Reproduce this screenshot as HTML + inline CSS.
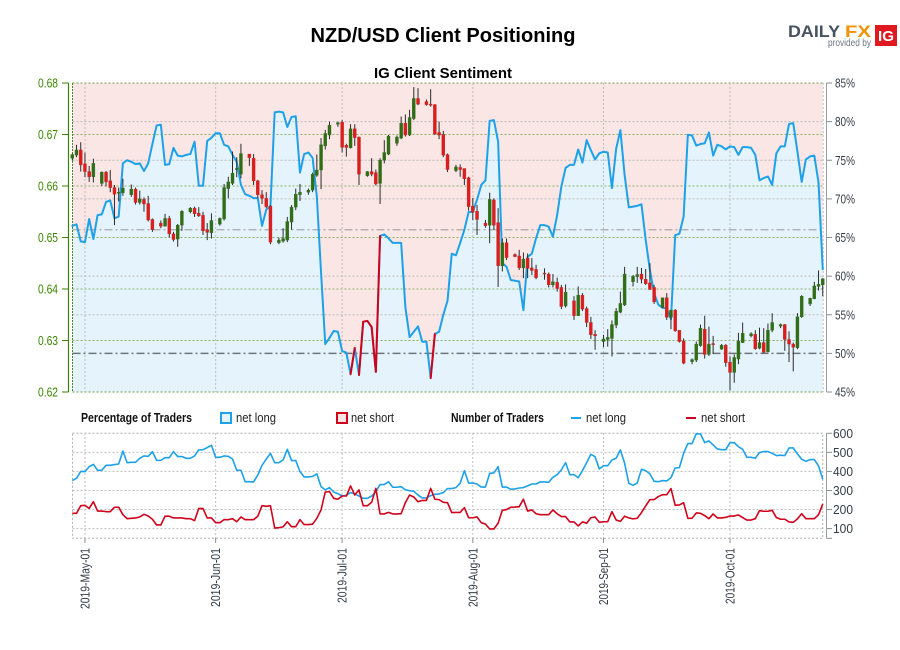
<!DOCTYPE html>
<html lang="en">
<head>
<meta charset="utf-8">
<title>NZD/USD Client Positioning</title>
<style>
html,body{margin:0;padding:0;background:#fff;}
body{width:900px;height:650px;overflow:hidden;}
svg{display:block;}
text{font-family:"Liberation Sans Narrow","Liberation Sans",sans-serif;}
.wide{font-family:"Liberation Sans",sans-serif;}
</style>
</head>
<body>
<svg id="chart" xmlns="http://www.w3.org/2000/svg" width="900" height="650" viewBox="0 0 900 650">
  <rect x="0" y="0" width="900" height="650" fill="#ffffff"/>
  <text class="wide" x="443" y="42" text-anchor="middle" font-size="20" font-weight="bold" fill="#000" textLength="265" lengthAdjust="spacingAndGlyphs">NZD/USD Client Positioning</text>
  <text class="wide" x="443" y="78" text-anchor="middle" font-size="15" font-weight="bold" fill="#000" textLength="138" lengthAdjust="spacingAndGlyphs">IG Client Sentiment</text>
  <g>
    <text class="wide" x="788" y="37" font-size="17" font-weight="bold" fill="#47535f" textLength="52" lengthAdjust="spacingAndGlyphs">DAILY</text>
    <text class="wide" x="845" y="37" font-size="17" font-weight="bold" fill="#f39200" textLength="26" lengthAdjust="spacingAndGlyphs">FX</text>
    <text class="wide" x="828" y="46" font-size="10" fill="#6d7680" textLength="43" lengthAdjust="spacingAndGlyphs">provided by</text>
    <rect x="875" y="25" width="22" height="21" fill="#e0181f"/>
    <text class="wide" x="886" y="41" text-anchor="middle" font-size="15" font-weight="bold" fill="#fff" textLength="16" lengthAdjust="spacingAndGlyphs">IG</text>
  </g>
  <g font-size="13" fill="#222">
    <text x="81" y="422" font-weight="bold" fill="#111" textLength="111" lengthAdjust="spacingAndGlyphs">Percentage of Traders</text>
    <rect x="221" y="413" width="10" height="10" fill="#e5f4fc" stroke="#1da1e8" stroke-width="2"/>
    <text x="236" y="422" textLength="40" lengthAdjust="spacingAndGlyphs">net long</text>
    <rect x="337" y="413" width="10" height="10" fill="#fbe6e6" stroke="#d0021b" stroke-width="2"/>
    <text x="351" y="422" textLength="43" lengthAdjust="spacingAndGlyphs">net short</text>
    <text x="451" y="422" font-weight="bold" fill="#111" textLength="93" lengthAdjust="spacingAndGlyphs">Number of Traders</text>
    <line x1="571" y1="418" x2="581" y2="418" stroke="#1da1e8" stroke-width="2"/>
    <text x="586" y="422" textLength="40" lengthAdjust="spacingAndGlyphs">net long</text>
    <line x1="686" y1="418" x2="696" y2="418" stroke="#d0021b" stroke-width="2"/>
    <text x="701" y="422" textLength="44" lengthAdjust="spacingAndGlyphs">net short</text>
  </g>
</svg>
<script>
// Prices are stored in pips (0.0001 units). null = market-closed day.
const opens=[
6654,6660,6670,6643,6628,6618,null,
6605,6627,6610,6597,6586,6587,null,
6583,6594,6568,6574,6566,6535,null,
6528,6522,6537,6507,6497,6524,null,
6550,6557,6547,6543,6515,6509,null,
6526,6536,6595,6605,6632,6623,null,
6662,6654,6610,6583,6576,6561,null,
6490,6493,6495,6530,6559,6583,null,
6588,6592,6621,6631,6678,6699,null,
6720,6724,6679,6674,6711,6695,null,
6620,6628,6626,6605,6650,6662,null,
6683,6693,6722,6699,6731,6770,null,
6764,6759,6758,6704,6700,6661,null,
6630,6636,6634,6616,6561,6551,null,
6528,6524,6573,6529,6445,6490,null,
6467,6464,6441,6460,6441,6438,null,
6431,6429,6408,6413,6403,6367,null,
6377,6348,6388,6362,6335,6312,null,
6298,6302,6304,6330,6355,6369,null,
6414,6424,6429,6419,6412,6403,null,
6364,6383,6345,6359,6320,6299,null,
6259,6262,6290,6322,6273,6294,null,
6283,6291,6258,6238,6264,6296,null,
6309,6312,6285,6296,6278,6320,null,
6328,6331,6302,6293,6286,6346,null,
6371,6381,6405,6408];
const highs=[
6663,6680,6685,6665,6639,6653,null,
6628,6629,6631,6602,6597,6614,null,
6603,6597,6591,6578,6581,6537,null,
6533,6546,6542,6511,6526,6553,null,
6559,6560,6559,6550,6528,6547,null,
6539,6604,6618,6667,6656,6682,null,
6662,6662,6612,6592,6588,6563,null,
6500,6518,6540,6563,6595,6604,null,
6595,6626,6661,6693,6709,6725,null,
6725,6728,6682,6720,6720,6696,null,
6629,6654,6632,6654,6689,6699,null,
6698,6735,6739,6748,6792,6790,null,
6768,6788,6759,6725,6707,6663,null,
6641,6642,6634,6618,6577,6563,null,
6534,6587,6576,6557,6498,6498,null,
6469,6476,6471,6469,6460,6447,null,
6440,6432,6429,6422,6408,6409,null,
6386,6405,6392,6366,6346,6320,null,
6311,6322,6339,6363,6395,6443,null,
6427,6443,6441,6439,6450,6408,null,
6383,6392,6359,6361,6320,6304,null,
6265,6298,6331,6348,6327,6309,null,
6293,6293,6269,6273,6315,6335,null,
6316,6320,6325,6324,6333,6353,null,
6333,6332,6318,6296,6353,6388,null,
6383,6414,6436,6421];
const lows=[
6649,6656,6628,6617,6608,6607,null,
6600,6599,6588,6524,6570,6581,null,
6579,6564,6564,6550,6531,6511,null,
6518,6521,6500,6492,6482,6513,null,
6547,6540,6540,6505,6495,6498,null,
6523,6533,6576,6602,6617,6615,null,
6639,6602,6576,6565,6557,6487,null,
6487,6490,6491,6515,6553,6571,null,
6583,6588,6618,6594,6671,6691,null,
6715,6665,6657,6673,6678,6602,null,
6618,6619,6601,6565,6644,6660,null,
6678,6691,6696,6697,6728,6757,null,
6756,6754,6699,6691,6656,6627,null,
6627,6618,6602,6552,6534,6505,null,
6519,6489,6515,6404,6434,6456,null,
6462,6437,6421,6421,6427,6419,null,
6418,6403,6403,6395,6361,6364,null,
6340,6348,6357,6326,6303,6282,null,
6287,6288,6269,6324,6353,6367,null,
6405,6412,6411,6408,6398,6371,null,
6363,6340,6322,6317,6296,6254,null,
6254,6258,6288,6265,6270,6274,null,
6282,6249,6203,6218,6254,6295,null,
6306,6282,6283,6276,6277,6316,null,
6324,6280,6258,6240,6283,6344,null,
6367,6380,6397,6386];
const closes=[
6661,6670,6641,6628,6618,6644,null,
6627,6608,6597,6584,6588,6596,null,
6594,6568,6575,6565,6534,6515,null,
6522,6537,6507,6496,6524,6551,null,
6557,6546,6542,6513,6510,6533,null,
6537,6597,6608,6625,6634,6663,null,
6655,6610,6583,6576,6560,6491,null,
6495,6498,6531,6559,6584,6588,null,
6592,6623,6631,6680,6702,6718,null,
6723,6675,6675,6711,6694,6623,null,
6628,6623,6604,6650,6665,6697,null,
6695,6722,6699,6733,6770,6759,null,
6758,6757,6701,6699,6660,6632,null,
6637,6632,6614,6560,6549,6535,null,
6523,6574,6524,6445,6490,6461,null,
6463,6441,6458,6440,6436,6422,null,
6429,6408,6414,6401,6366,6394,null,
6348,6388,6361,6335,6311,6309,null,
6303,6306,6331,6357,6372,6429,null,
6425,6428,6419,6410,6399,6375,null,
6383,6345,6359,6319,6298,6256,null,
6263,6293,6324,6273,6293,6292,null,
6291,6257,6238,6267,6299,6314,null,
6313,6284,6296,6277,6320,6335,null,
6331,6302,6293,6287,6346,6386,null,
6382,6406,6409,6420];
// Percentage of traders net long, one value per calendar day
const netLongPct=[
66.5,66.7,64.5,64.4,67.4,64.8,67.9,68.0,69.6,69.8,67.5,67.7,74.6,75.0,74.8,74.5,74.6,73.6,74.6,77.1,
79.5,79.6,74.4,74.5,76.6,75.6,75.5,75.7,75.8,77.4,71.7,71.7,77.5,77.9,78.5,78.5,77.0,76.8,75.7,74.8,
71.8,70.6,70.4,70.1,70.1,66.5,68.6,69.1,81.2,81.3,81.2,79.3,80.6,80.7,73.4,75.8,76.0,75.3,70.3,60.5,
51.2,52.0,52.9,52.8,50.3,50.1,47.3,50.7,47.2,54.1,54.2,53.4,47.6,65.2,65.4,64.9,64.3,64.3,64.3,56.0,
52.1,52.8,53.5,51.5,51.5,46.8,52.5,52.8,55.0,56.8,62.9,62.7,64.3,66.0,68.3,68.3,69.9,71.8,72.4,80.1,
80.2,77.4,61.7,61.2,59.5,59.4,59.3,55.6,62.5,62.9,64.9,66.6,66.6,66.4,65.1,67.9,71.6,74.0,74.4,74.4,
76.4,74.7,77.6,76.3,75.1,75.9,76.1,76.0,71.4,76.5,78.9,73.1,68.9,69.0,69.1,69.3,64.7,60.8,57.8,56.3,
55.9,55.8,54.4,65.3,65.5,67.7,78.3,78.2,76.9,77.1,77.2,78.6,75.6,77.0,76.8,76.4,76.8,76.7,75.7,76.7,
76.7,76.6,75.7,72.4,72.7,72.9,71.8,75.9,76.8,76.8,79.7,79.8,76.1,72.2,75.1,75.5,75.6,72.1,60.9];
// Day ranges in which the sentiment line is drawn in the net-short colour
const shortDominantRanges=[[66,67],[68,73],[85,86]];
// Number of traders
const longCount=[
352,364,400,399,425,437,406,406,432,432,436,439,507,446,448,448,469,481,479,504,
458,458,472,472,504,478,478,469,469,481,513,514,525,537,474,474,481,479,465,406,
406,346,346,345,381,432,464,495,446,446,460,516,457,457,399,371,371,374,387,320,
303,315,292,283,271,275,289,282,271,259,259,271,294,331,331,346,317,317,320,304,
299,296,276,261,261,273,280,282,289,310,310,315,338,404,339,339,334,318,318,390,
392,425,318,318,306,308,313,315,324,334,334,345,345,343,369,383,408,446,383,383,
367,404,446,490,477,413,430,430,460,469,513,443,338,327,339,411,404,387,348,346,
352,350,367,418,420,495,546,546,598,597,551,560,539,518,514,514,551,551,530,516,
474,474,469,499,504,504,495,483,485,483,523,523,492,464,453,462,462,429,359];
const shortCount=[
180,180,220,222,206,241,192,192,189,189,212,212,173,152,154,156,161,175,166,149,
119,119,165,165,156,156,156,152,152,142,206,205,156,156,131,131,147,147,152,136,
161,147,147,147,165,220,217,220,103,105,109,136,110,110,147,121,121,123,154,198,
292,294,259,254,271,271,324,276,303,220,220,238,311,177,177,185,177,177,178,236,
276,266,241,248,248,311,254,252,238,236,184,185,185,210,157,157,161,131,124,98,
98,128,196,200,212,213,215,254,192,198,178,173,173,173,198,178,163,163,135,135,
114,135,128,157,161,133,136,136,189,145,138,165,156,151,154,184,219,252,252,268,
278,278,310,222,224,236,154,154,182,180,168,152,177,156,156,159,166,166,172,158,
145,145,152,194,191,191,196,158,149,149,135,133,151,178,152,152,152,173,229];
// Axis ticks
const priceTicks=[6800,6700,6600,6500,6400,6300,6200];
const priceTickLabels=['0.68','0.67','0.66','0.65','0.64','0.63','0.62'];
const pctTicks=[85,80,75,70,65,60,55,50,45];
const countTicks=[600,500,400,300,200,100];
const dateTickDays=[3,34,64,95,126,156];
const dateTickLabels=['2019-May-01','2019-Jun-01','2019-Jul-01','2019-Aug-01','2019-Sep-01','2019-Oct-01'];
const dateTickLengths=[61,59,55,59,57,56];
// Reference levels on the sentiment axis
const upperReferencePct=66;
const lowerReferencePct=50;

// Axis functions
const dayX=function(d){return 72.3+4.216*d;};
const priceY=function(p){return 83+(6800-p)*0.515;};
const pctY=function(p){return 392-(p-45)*7.725;};
const countY=function(v){return 433.3+(600-v)*0.1906;};

const svg=document.getElementById('chart');
const NS='http://www.w3.org/2000/svg';
function make(tag,attrs,parent){
  const el=document.createElementNS(NS,tag);
  for(const k in attrs){el.setAttribute(k,attrs[k]);}
  (parent||svg).appendChild(el);
  return el;
}
function poly(values,yFn,from,to){
  const pts=[];
  for(let i=from;i<=to;i++){pts.push(dayX(i).toFixed(2)+','+yFn(values[i]).toFixed(2));}
  return pts.join(' ');
}
const lastDay=netLongPct.length-1;
const left=72.5,right=dayX(lastDay);

// Sentiment backdrop
const shortBg=make('rect',{x:left,y:83,width:right-left,height:309,fill:'#fbe6e6'});


const longArea=make('polygon',{points:dayX(0)+',392 '+poly(netLongPct,pctY,0,lastDay)+' '+right+',392',fill:'#e5f4fc'});



// Percent grid
pctTicks.forEach(function(t){
  const y=pctY(t);
  if(t!==85&&t!==45&&t!==50&&t!==65){
    const g=make('line',{x1:left,x2:right,y1:y,y2:y,stroke:'#b9b9b9','stroke-width':1,'stroke-dasharray':'2 2'});
    
    
  }
  const tk=make('line',{x1:826.5,x2:832,y1:y,y2:y,stroke:'#8a8f93','stroke-width':1});
  
  
  const lb=make('text',{x:835,y:y+4.5,'font-size':13,fill:'#333c45',textLength:20,lengthAdjust:'spacingAndGlyphs'});
  lb.textContent=t+'%';
  
  
});
// Price grid
priceTicks.forEach(function(t,idx){
  const y=priceY(t);
  const g=make('line',{x1:left,x2:right,y1:y,y2:y,stroke:'#6f9f45','stroke-width':1,'stroke-dasharray':'2 2','stroke-opacity':(idx===0||idx===6)?1:0.8});
  
  
  const tk=make('line',{x1:62,x2:68.5,y1:y,y2:y,stroke:'#3a8500','stroke-width':1});
  
  
  const lb=make('text',{x:38,y:y+4.5,'font-size':13,fill:'#3a8500',textLength:20,lengthAdjust:'spacingAndGlyphs'});
  lb.textContent=priceTickLabels[idx];
  
  
});
// Date grid, ticks, labels
dateTickDays.forEach(function(d,idx){
  const x=dayX(d);
  const g1=make('line',{x1:x,x2:x,y1:83,y2:392,stroke:'#bdbdbd','stroke-width':1,'stroke-dasharray':'2 2'});
  
  
  const g2=make('line',{x1:x,x2:x,y1:433,y2:538,stroke:'#bdbdbd','stroke-width':1,'stroke-dasharray':'2 2'});
  
  
  const tk=make('line',{x1:x,x2:x,y1:538,y2:543,stroke:'#8a8f93','stroke-width':1});
  
  
  const lb=make('text',{x:0,y:0,'font-size':13,fill:'#333c45','text-anchor':'end',textLength:dateTickLengths[idx],lengthAdjust:'spacingAndGlyphs',transform:'translate('+(x+4.5)+',548) rotate(-90)'});
  lb.textContent=dateTickLabels[idx];
  
  
});
// Reference lines
const refUpper=make('line',{x1:left,x2:right,y1:pctY(upperReferencePct),y2:pctY(upperReferencePct),stroke:'#a9a9a9','stroke-width':1.2,'stroke-dasharray':'8 3 2 3'});


const refLower=make('line',{x1:left,x2:right,y1:pctY(lowerReferencePct),y2:pctY(lowerReferencePct),stroke:'#6d7377','stroke-width':1.4,'stroke-dasharray':'8 3 2 3'});


// Axis lines and frames
const leftAxis=make('line',{x1:68.5,x2:68.5,y1:83,y2:392,stroke:'#3a8500','stroke-width':1.2});


const frameL=make('line',{x1:left,x2:left,y1:83,y2:392,stroke:'#4f7f2a','stroke-width':1,'stroke-dasharray':'2 1'});


const frameR=make('line',{x1:right+0.5,x2:right+0.5,y1:83,y2:392,stroke:'#bdbdbd','stroke-width':1,'stroke-dasharray':'2 2'});


const rightAxis=make('line',{x1:826.5,x2:826.5,y1:83,y2:392,stroke:'#9a9ea1','stroke-width':1});



// Sentiment line (long colour, then short-dominant spans on top)
const sentLine=make('polyline',{points:poly(netLongPct,pctY,0,lastDay),fill:'none',stroke:'#1da1e8','stroke-width':2,'stroke-linejoin':'round','stroke-linecap':'round'});


shortDominantRanges.forEach(function(r){
  const s=make('polyline',{points:poly(netLongPct,pctY,r[0],r[1]),fill:'none',stroke:'#d0021b','stroke-width':2,'stroke-linejoin':'round','stroke-linecap':'round'});
  
  
});

// Candles
opens.forEach(function(o,i){
  if(o===null){return;}
  const c=closes[i];
  const up=c>=o;
  const x=dayX(i);
  const wick=make('line',{x1:x,x2:x,y1:priceY(highs[i]),y2:priceY(lows[i]),stroke:'#2b2b2b','stroke-width':1});
  
  
  const top=priceY(Math.max(o,c));
  const h=Math.max(1,priceY(Math.min(o,c))-top);
  const body=make('rect',{x:x-1.5,y:top,width:3,height:h,fill:up?'#2f6f14':'#e01b1b',stroke:up?'#3d6b28':'#b5302f','stroke-width':0.4});
  
  
});

// Lower panel frame and grid
const botFrame=make('rect',{x:left,y:433.3,width:right-left,height:105,fill:'none',stroke:'#b0b0b0','stroke-width':1,'stroke-dasharray':'2 2'});


countTicks.forEach(function(t){
  const y=countY(t);
  const g=make('line',{x1:left,x2:right,y1:y,y2:y,stroke:'#bdbdbd','stroke-width':1,'stroke-dasharray':'2 2'});
  
  
  const tk=make('line',{x1:826.5,x2:832,y1:y,y2:y,stroke:'#8a8f93','stroke-width':1});
  
  
  const lb=make('text',{x:833,y:y+4.5,'font-size':13,fill:'#333c45',textLength:20,lengthAdjust:'spacingAndGlyphs'});
  lb.textContent=String(t);
  
  
});
const countAxis=make('line',{x1:826.5,x2:826.5,y1:433,y2:538.5,stroke:'#9a9ea1','stroke-width':1});


const countTickEnd=make('line',{x1:826.5,x2:832,y1:538.3,y2:538.3,stroke:'#8a8f93','stroke-width':1});



const longLine=make('polyline',{points:poly(longCount,countY,0,lastDay),fill:'none',stroke:'#1da1e8','stroke-width':1.6,'stroke-linejoin':'round'});


const shortLine=make('polyline',{points:poly(shortCount,countY,0,lastDay),fill:'none',stroke:'#d0021b','stroke-width':1.6,'stroke-linejoin':'round'});


</script>
</body>
</html>
